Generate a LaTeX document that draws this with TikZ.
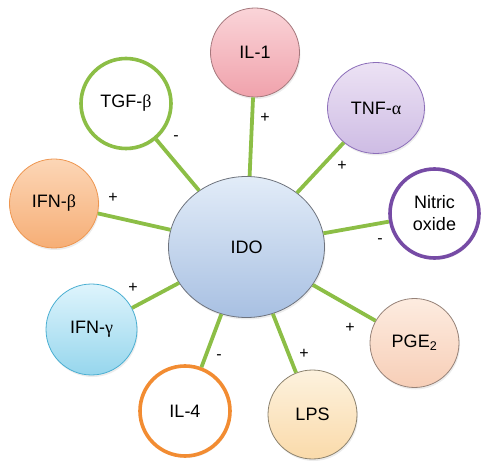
\documentclass[tikz,border=0pt]{standalone}
\usepackage{fontspec}
\setmainfont{Liberation Sans}
\newfontfamily\greekfont{Liberation Serif}
\usetikzlibrary{shapes.geometric,shadows}

\newcommand\gk[1]{{\greekfont #1}}

\definecolor{linkgreen}{RGB}{140,190,70}
\definecolor{idotop}{RGB}{226,236,248}
\definecolor{idobot}{RGB}{168,192,226}
\definecolor{idoline}{RGB}{110,115,125}
\definecolor{iltop}{RGB}{250,212,216}
\definecolor{ilbot}{RGB}{240,162,172}
\definecolor{illine}{RGB}{165,120,125}
\definecolor{tnftop}{RGB}{236,226,244}
\definecolor{tnfbot}{RGB}{206,188,228}
\definecolor{tnfline}{RGB}{140,110,185}
\definecolor{noline}{RGB}{118,75,165}
\definecolor{pgetop}{RGB}{253,236,224}
\definecolor{pgebot}{RGB}{247,206,183}
\definecolor{pgeline}{RGB}{150,130,120}
\definecolor{lpstop}{RGB}{253,242,222}
\definecolor{lpsbot}{RGB}{250,218,170}
\definecolor{lpsline}{RGB}{140,130,110}
\definecolor{ilfourline}{RGB}{242,140,50}
\definecolor{gamtop}{RGB}{222,244,252}
\definecolor{gambot}{RGB}{150,214,237}
\definecolor{gamline}{RGB}{75,175,210}
\definecolor{bettop}{RGB}{252,214,182}
\definecolor{betbot}{RGB}{246,174,118}
\definecolor{betline}{RGB}{238,150,80}

\tikzset{
  mol/.style={inner sep=0pt, line width=0.8pt, align=center,
    font=\fontsize{18}{22}\selectfont,
    drop shadow={opacity=0.15, shadow xshift=1pt, shadow yshift=-2pt}},
  filled/.style n args={3}{mol, draw=#1, top color=#2, bottom color=#3},
  ring/.style={mol, circle, draw=#1, line width=3.6pt, fill=white, minimum size=90pt},
  link/.style={draw=linkgreen, line width=3.8pt},
  sign/.style={font=\fontsize{16}{16}\selectfont, inner sep=0pt}
}

\begin{document}
\begin{tikzpicture}[x=1pt,y=-1pt]
\useasboundingbox (0,0) rectangle (482,462);

% centre
\node[filled={idoline}{idotop}{idobot}, ellipse, minimum width=156pt, minimum height=141pt] (ido) at (246.5,247) {IDO};

% mediators round it
\node[filled={illine}{iltop}{ilbot}, circle, minimum size=89pt] (il1) at (255,52.5) {IL-1};
\node[filled={tnfline}{tnftop}{tnfbot}, ellipse, minimum width=97pt, minimum height=91pt] (tnf) at (376,108) {TNF-\gk{α}};
\node[ring=noline, minimum size=89pt] (no) at (434.5,213.5) {Nitric\\oxide};
\node[filled={pgeline}{pgetop}{pgebot}, circle, minimum size=89pt] (pge) at (414.5,343) {PGE\textsubscript{2}};
\node[filled={lpsline}{lpstop}{lpsbot}, circle, minimum size=89pt] (lps) at (312.5,414.5) {LPS};
\node[ring=ilfourline] (il4) at (185,411) {IL-4};
\node[filled={gamline}{gamtop}{gambot}, circle, minimum size=91pt] (ifng) at (91.5,329.5) {IFN-\gk{γ}};
\node[filled={betline}{bettop}{betbot}, circle, minimum size=89pt] (ifnb) at (54,203.5) {IFN-\gk{β}};
\node[ring=linkgreen] (tgf) at (126,103.5) {TGF-\gk{β}};

% spokes
\foreach \n in {il1,tnf,no,pge,lps,il4,ifng,ifnb,tgf}
  \draw[link] (ido) -- (\n);

% effect signs
\node[sign] (pil1) at (265,118) {+};
\node[sign] (ptnf) at (342,166) {+};
\node[sign] (mno) at (380,241) {-};
\node[sign] (ppge) at (350,328) {+};
\node[sign] (plps) at (304,354) {+};
\node[sign] (mil4) at (219,357) {-};
\node[sign] (pifng) at (133,288) {+};
\node[sign] (pifnb) at (113,198) {+};
\node[sign] (mtgf) at (176,138) {-};
\end{tikzpicture}
\end{document}
